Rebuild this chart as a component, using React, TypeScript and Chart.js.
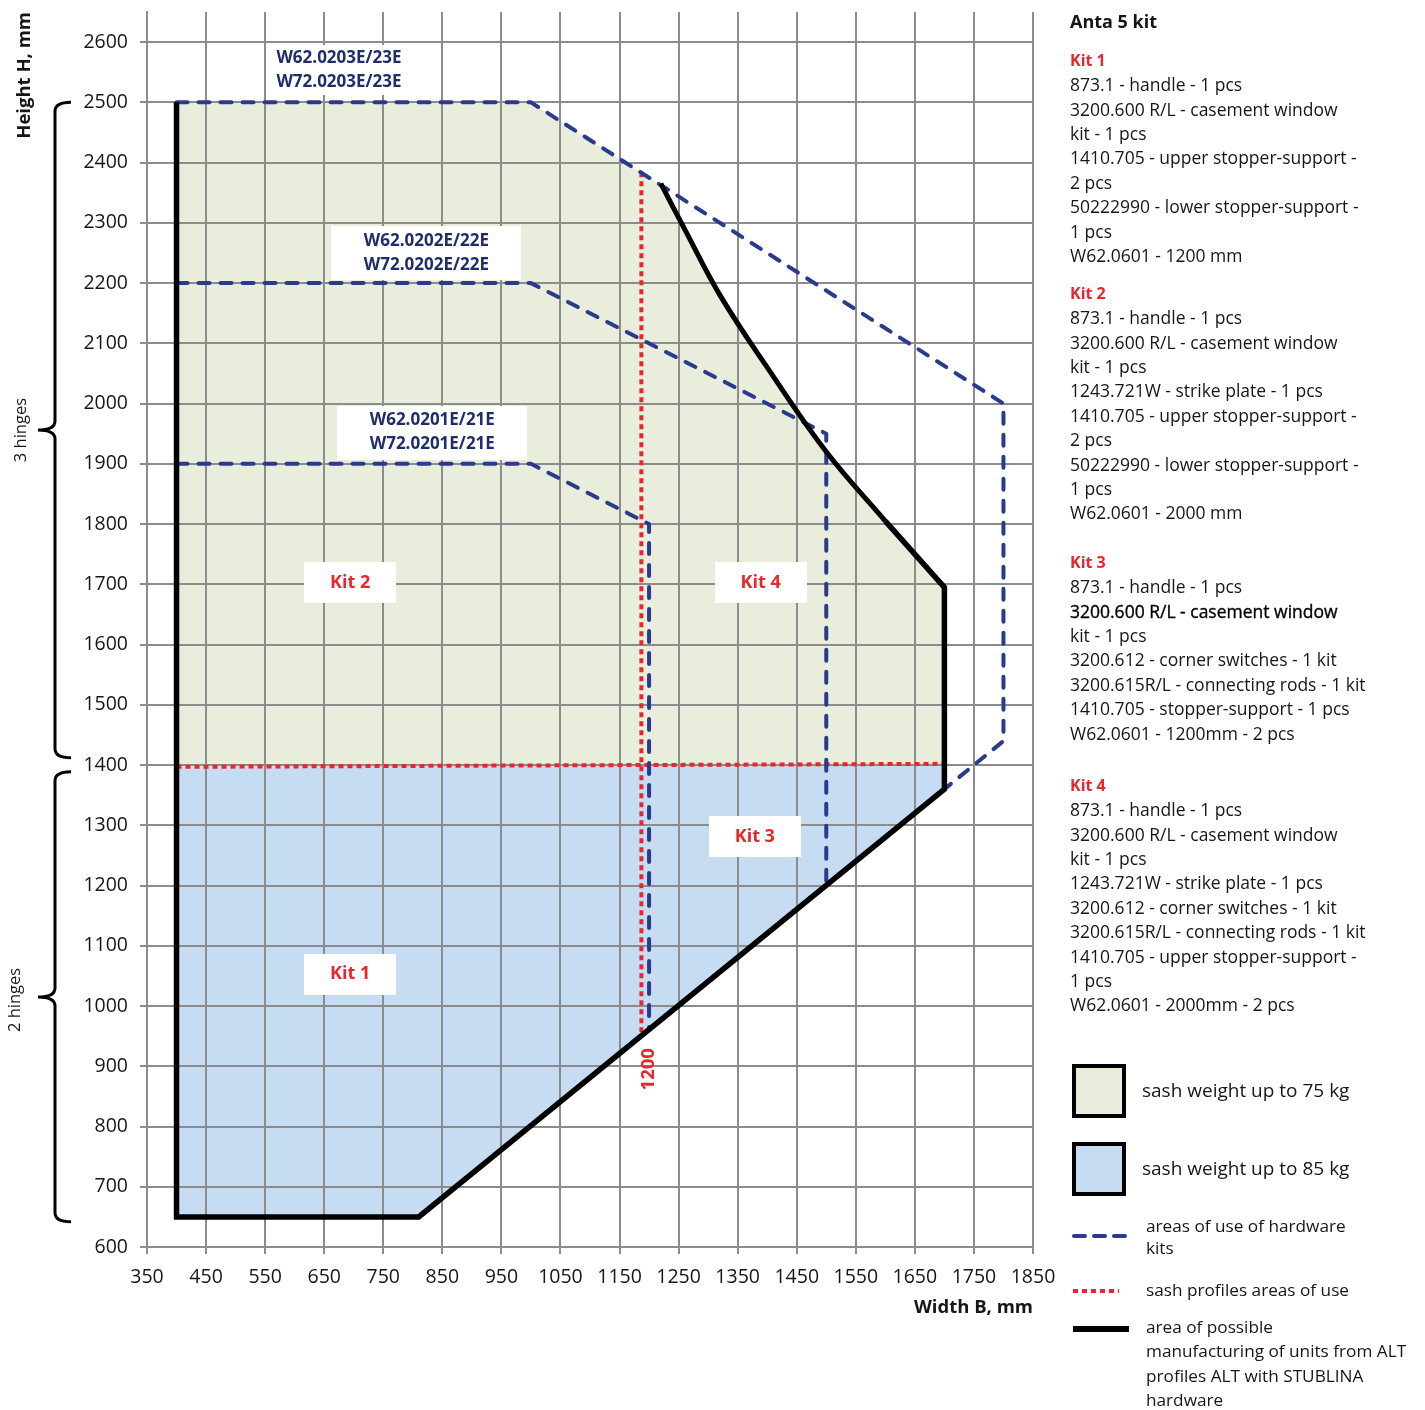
import React, { useEffect, useRef } from "react";
import { Chart, registerables } from "chart.js";

Chart.register(...registerables);

const FONT = '"Open Sans", "Noto Sans", sans-serif';
const NAVY = "#2a3a8e";
const NAVY_TEXT = "#1f2d6b";
const RED = "#e8262b";
const GREEN_FILL = "#e9eddb";
const BLUE_FILL = "#c6dcf3";
const GRID = "#8c8c8c";
const TEXT = "#161616";

// ---- axes ----
const X_TICKS = [350, 450, 550, 650, 750, 850, 950, 1050, 1150, 1250, 1350, 1450, 1550, 1650, 1750, 1850];
const Y_TICKS = [600, 700, 800, 900, 1000, 1100, 1200, 1300, 1400, 1500, 1600, 1700, 1800, 1900, 2000, 2100, 2200, 2300, 2400, 2500, 2600];
const X_MIN = 350;
const X_MAX = 1850;
const Y_MIN = 600;
const Y_MAX = 2650;

// ---- zones (width B, height H) ----
const zone75W = [400, 400, 1000, 1220, 1240, 1260, 1290, 1320, 1360, 1400, 1450, 1500, 1550, 1600, 1700, 1700];
const zone75H = [1397, 2500, 2500, 2362, 2326, 2290, 2234, 2180, 2118, 2060, 1988, 1920, 1860, 1805, 1695, 1402];
const zone85W = [400, 400, 810, 1700, 1700];
const zone85H = [1397, 650, 650, 1360, 1402];

// area of possible manufacturing (black): curved upper edge + straight outline
const limitCurveW = [1220, 1260, 1320, 1400, 1500, 1600];
const limitCurveH = [2365, 2290, 2180, 2060, 1920, 1805];
const limitW = [1600, 1700, 1700, 810, 400, 400];
const limitH = [1805, 1695, 1360, 650, 650, 2500];

// hardware kits areas (blue dashed)
const kit23W = [400, 1000, 1800, 1800, 1700];
const kit23H = [2500, 2500, 2000, 1440, 1360];
const kit22W = [400, 1000, 1500, 1500];
const kit22H = [2200, 2200, 1950, 1205];
const kit21W = [400, 1000, 1200, 1200];
const kit21H = [1900, 1900, 1800, 960];

// sash profiles areas (red dotted)
const profileHorW = [400, 1700];
const profileHorH = [1397, 1402];
const profileVerW = [1187, 1187];
const profileVerH = [2384, 957];

// ---- in-plot labels ----
const KIT_NAMES = ["Kit 1", "Kit 2", "Kit 3", "Kit 4"];
const KIT_NAME_W = [694, 694, 1379, 1389];
const KIT_NAME_H = [1053, 1703, 1281, 1703];
const PROFILE_NAMES = [
  ["W62.0203E/23E", "W72.0203E/23E"],
  ["W62.0202E/22E", "W72.0202E/22E"],
  ["W62.0201E/21E", "W72.0201E/21E"],
];
const PROFILE_NAME_W = [675, 823, 833];
const PROFILE_NAME_H = [2554, 2250, 1952];
const WIDTH_MARK = "1200";
const WIDTH_MARK_W = 1199;
const WIDTH_MARK_H = 895;

// hinge braces (heights)
const HINGE_TEXT = ["3 hinges", "2 hinges"];
const HINGE_TOP = [2500, 1389];
const HINGE_MID = [1956, 1015];
const HINGE_BOT = [1412, 642];

// ---- side panel text ----
const KIT_LINES: string[][] = [
  [
    "873.1 - handle - 1 pcs",
    "3200.600 R/L - casement window",
    "kit - 1 pcs",
    "1410.705 - upper stopper-support -",
    "2 pcs",
    "50222990 - lower stopper-support -",
    "1 pcs",
    "W62.0601 - 1200 mm",
  ],
  [
    "873.1 - handle - 1 pcs",
    "3200.600 R/L - casement window",
    "kit - 1 pcs",
    "1243.721W - strike plate - 1 pcs",
    "1410.705 - upper stopper-support -",
    "2 pcs",
    "50222990 - lower stopper-support -",
    "1 pcs",
    "W62.0601 - 2000 mm",
  ],
  [
    "873.1 - handle - 1 pcs",
    "3200.600 R/L - casement window",
    "kit - 1 pcs",
    "3200.612 - corner switches - 1 kit",
    "3200.615R/L - connecting rods - 1 kit",
    "1410.705 - stopper-support - 1 pcs",
    "W62.0601 - 1200mm - 2 pcs",
  ],
  [
    "873.1 - handle - 1 pcs",
    "3200.600 R/L - casement window",
    "kit - 1 pcs",
    "1243.721W - strike plate - 1 pcs",
    "3200.612 - corner switches - 1 kit",
    "3200.615R/L - connecting rods - 1 kit",
    "1410.705 - upper stopper-support -",
    "1 pcs",
    "W62.0601 - 2000mm - 2 pcs",
  ],
];
const KIT_BLOCK_CENTERS = [60, 293, 562, 785];

const toPoints = (ws: number[], hs: number[]) => ws.map((w, i) => ({ x: w, y: hs[i] }));

const overlayPlugin = {
  id: "overlay",
  afterDatasetsDraw(chart: any) {
    const { ctx } = chart;
    const xs = chart.scales.x;
    const ys = chart.scales.y;
    ctx.save();
    ctx.textAlign = "center";
    ctx.textBaseline = "middle";
    // profile labels
    PROFILE_NAMES.forEach((lines, i) => {
      const cx = xs.getPixelForValue(PROFILE_NAME_W[i]);
      const cy = ys.getPixelForValue(PROFILE_NAME_H[i]);
      const bw = i === 0 ? 146 : 190;
      const bh = i === 0 ? 50 : 54;
      ctx.fillStyle = "#ffffff";
      ctx.fillRect(Math.round(cx - bw / 2), Math.round(cy - bh / 2), bw, bh);
      ctx.fillStyle = NAVY_TEXT;
      ctx.font = `bold 17px ${FONT}`;
      ctx.fillText(lines[0], cx, cy - 12);
      ctx.fillText(lines[1], cx, cy + 12);
    });
    // kit labels
    KIT_NAMES.forEach((name, i) => {
      const cx = xs.getPixelForValue(KIT_NAME_W[i]);
      const cy = ys.getPixelForValue(KIT_NAME_H[i]);
      ctx.fillStyle = "#ffffff";
      ctx.fillRect(Math.round(cx - 46), Math.round(cy - 20.5), 92, 41);
      ctx.fillStyle = RED;
      ctx.font = `bold 18px ${FONT}`;
      ctx.fillText(name, cx, cy);
    });
    // rotated width mark
    ctx.save();
    ctx.translate(xs.getPixelForValue(WIDTH_MARK_W), ys.getPixelForValue(WIDTH_MARK_H));
    ctx.rotate(-Math.PI / 2);
    ctx.fillStyle = RED;
    ctx.font = `bold 18.5px ${FONT}`;
    ctx.fillText(WIDTH_MARK, 0, 0);
    ctx.restore();
    ctx.restore();
  },
  afterDraw(chart: any) {
    const { ctx } = chart;
    const ys = chart.scales.y;
    ctx.save();
    ctx.strokeStyle = "#000";
    ctx.lineWidth = 3;
    ctx.lineCap = "butt";
    HINGE_TEXT.forEach((label, i) => {
      const t = ys.getPixelForValue(HINGE_TOP[i]);
      const m = ys.getPixelForValue(HINGE_MID[i]);
      const b = ys.getPixelForValue(HINGE_BOT[i]);
      const xl = 55;
      ctx.beginPath();
      ctx.moveTo(xl + 16, t);
      ctx.quadraticCurveTo(xl, t, xl, t + 9);
      ctx.lineTo(xl, m - 9);
      ctx.quadraticCurveTo(xl, m, xl - 17, m);
      ctx.quadraticCurveTo(xl, m, xl, m + 9);
      ctx.lineTo(xl, b - 9);
      ctx.quadraticCurveTo(xl, b, xl + 16, b);
      ctx.stroke();
      ctx.save();
      ctx.translate(i === 0 ? 21 : 15, i === 0 ? m : m + 3);
      ctx.rotate(-Math.PI / 2);
      ctx.fillStyle = TEXT;
      ctx.font = `16.5px ${FONT}`;
      ctx.textAlign = "center";
      ctx.textBaseline = "middle";
      ctx.fillText(label, 0, 0);
      ctx.restore();
    });
    ctx.restore();
  },
};

function buildConfig(): any {
  const dashed = (label: string, ws: number[], hs: number[]) => ({
    label,
    data: toPoints(ws, hs),
    showLine: true,
    borderColor: NAVY,
    borderWidth: 4,
    borderDash: [11, 11],
    borderCapStyle: "round",
    borderJoinStyle: "round",
    fill: false,
    order: 1,
  });
  const dotted = (label: string, ws: number[], hs: number[]) => ({
    label,
    data: toPoints(ws, hs),
    showLine: true,
    borderColor: RED,
    borderWidth: 4,
    borderDash: [5, 4],
    borderCapStyle: "butt",
    fill: false,
    order: 2,
  });
  return {
    type: "scatter",
    data: {
      datasets: [
        {
          label: "area of possible manufacturing (curve)",
          data: toPoints(limitCurveW, limitCurveH),
          showLine: true,
          borderColor: "#000000",
          borderWidth: 5,
          borderCapStyle: "butt",
          tension: 0.4,
          fill: false,
          order: 0,
        },
        {
          label: "area of possible manufacturing",
          data: toPoints(limitW, limitH),
          showLine: true,
          borderColor: "#000000",
          borderWidth: 5.5,
          borderJoinStyle: "miter",
          borderCapStyle: "butt",
          fill: false,
          order: 0,
        },
        dashed("W62.0203E/23E", kit23W, kit23H),
        dashed("W62.0202E/22E", kit22W, kit22H),
        dashed("W62.0201E/21E", kit21W, kit21H),
        dotted("sash profiles (horizontal)", profileHorW, profileHorH),
        dotted("sash profiles (vertical)", profileVerW, profileVerH),
        {
          label: "sash weight up to 75 kg",
          data: toPoints(zone75W, zone75H),
          showLine: true,
          borderColor: "rgba(0,0,0,0)",
          borderWidth: 0,
          backgroundColor: GREEN_FILL,
          fill: "shape",
          order: 4,
        },
        {
          label: "sash weight up to 85 kg",
          data: toPoints(zone85W, zone85H),
          showLine: true,
          borderColor: "rgba(0,0,0,0)",
          borderWidth: 0,
          backgroundColor: BLUE_FILL,
          fill: "shape",
          order: 3,
        },
      ],
    },
    options: {
      responsive: false,
      animation: false,
      events: [],
      layout: { padding: { left: 0, top: 12, right: 392, bottom: 0 } },
      elements: { point: { radius: 0, hoverRadius: 0 }, line: { tension: 0 } },
      plugins: {
        legend: { display: false },
        tooltip: { enabled: false },
        filler: { drawTime: "beforeDraw" },
      },
      scales: {
        x: {
          type: "linear",
          min: X_MIN,
          max: X_MAX,
          afterBuildTicks: (s: any) => {
            s.ticks = X_TICKS.map((v) => ({ value: v }));
          },
          afterFit: (s: any) => {
            s.height = 163;
            s.paddingLeft = 0;
            s.paddingRight = 0;
          },
          grid: { color: GRID, lineWidth: 2, drawTicks: true, tickLength: 7 },
          border: { display: true, color: GRID, width: 2 },
          ticks: {
            color: TEXT,
            font: { family: FONT, size: 19.5 },
            padding: 12,
            maxRotation: 0,
            autoSkip: false,
            callback: (v: any) => String(v),
          },
          title: {
            display: true,
            text: "Width B, mm",
            align: "end",
            color: TEXT,
            font: { family: FONT, size: 18.5, weight: "bold" },
            padding: { top: 0, bottom: 91 },
          },
        },
        y: {
          type: "linear",
          min: Y_MIN,
          max: Y_MAX,
          afterBuildTicks: (s: any) => {
            s.ticks = Y_TICKS.map((v) => ({ value: v }));
          },
          afterFit: (s: any) => {
            s.width = 147;
            s.paddingTop = 0;
            s.paddingBottom = 0;
          },
          grid: { color: GRID, lineWidth: 2, drawTicks: true, tickLength: 7 },
          border: { display: true, color: GRID, width: 2 },
          ticks: {
            color: TEXT,
            font: { family: FONT, size: 19.5 },
            padding: 12,
            autoSkip: false,
            callback: (v: any) => String(v),
          },
          title: {
            display: true,
            text: "Height H, mm",
            align: "end",
            color: TEXT,
            font: { family: FONT, size: 18.5, weight: "bold" },
            padding: { top: 14, bottom: 0 },
          },
        },
      },
    },
    plugins: [overlayPlugin],
  };
}

function LineSample({ kind }: { kind: "dash" | "dot" | "solid" }) {
  if (kind === "dash") {
    return (
      <svg width={62} height={10} style={{ display: "block" }}>
        <line x1={3} y1={5} x2={59} y2={5} stroke={NAVY} strokeWidth={4} strokeDasharray="11 9" strokeLinecap="round" />
      </svg>
    );
  }
  if (kind === "dot") {
    return (
      <svg width={50} height={10} style={{ display: "block" }}>
        <line x1={1} y1={5} x2={47} y2={5} stroke={RED} strokeWidth={4} strokeDasharray="5 4" />
      </svg>
    );
  }
  return (
    <svg width={60} height={10} style={{ display: "block" }}>
      <line x1={1} y1={5} x2={57} y2={5} stroke="#000" strokeWidth={6} />
    </svg>
  );
}

export default function App() {
  const ref = useRef<HTMLCanvasElement | null>(null);
  useEffect(() => {
    if (!ref.current) return;
    const chart = new Chart(ref.current, buildConfig());
    return () => chart.destroy();
  }, []);

  const abs = (left: number, top: number, extra: any = {}) => ({ position: "absolute" as const, left, top, whiteSpace: "nowrap" as const, ...extra });

  return (
    <div style={{ position: "absolute", left: 0, top: 0, width: 1425, height: 1410, background: "#fff", fontFamily: FONT, color: TEXT, overflow: "hidden" }}>
      <canvas ref={ref} width={1425} height={1410} style={{ position: "absolute", left: 0, top: 0, width: 1425, height: 1410 }} />

      <div style={abs(1070, 21 - 12.2, { fontSize: 18, fontWeight: 700, lineHeight: "24.4px" })}>Anta 5 kit</div>

      {KIT_LINES.map((lines, k) => (
        <div key={k} style={abs(1070, KIT_BLOCK_CENTERS[k] - 12.2, { fontSize: 17.5, lineHeight: "24.4px" })}>
          <div style={{ color: RED, fontWeight: 700, fontSize: 16 }}>{`Kit ${k + 1}`}</div>
          {lines.map((t, i) => (
            <div key={i} style={k === 2 && i === 1 ? { color: "#000", WebkitTextStroke: "0.35px #000" } : undefined}>
              {t}
            </div>
          ))}
        </div>
      ))}

      {/* legend */}
      <div style={abs(1072, 1064, { width: 54, height: 54, boxSizing: "border-box", border: "4px solid #000", background: GREEN_FILL })} />
      <div style={abs(1142, 1090 - 13, { fontSize: 19, lineHeight: "26px" })}>sash weight up to 75 kg</div>
      <div style={abs(1072, 1142, { width: 54, height: 54, boxSizing: "border-box", border: "4px solid #000", background: BLUE_FILL })} />
      <div style={abs(1142, 1168 - 13, { fontSize: 19, lineHeight: "26px" })}>sash weight up to 85 kg</div>

      <div style={abs(1071, 1231)}>
        <LineSample kind="dash" />
      </div>
      <div style={abs(1146, 1226 - 11, { fontSize: 17.2, lineHeight: "22px" })}>
        <div>areas of use of hardware</div>
        <div>kits</div>
      </div>

      <div style={abs(1072, 1286)}>
        <LineSample kind="dot" />
      </div>
      <div style={abs(1146, 1290 - 11, { fontSize: 17.2, lineHeight: "22px" })}>sash profiles areas of use</div>

      <div style={abs(1072, 1324)}>
        <LineSample kind="solid" />
      </div>
      <div style={abs(1146, 1327 - 12.2, { fontSize: 17.2, lineHeight: "24.4px" })}>
        <div>area of possible</div>
        <div>manufacturing of units from ALT</div>
        <div>profiles ALT with STUBLINA</div>
        <div>hardware</div>
      </div>
    </div>
  );
}
